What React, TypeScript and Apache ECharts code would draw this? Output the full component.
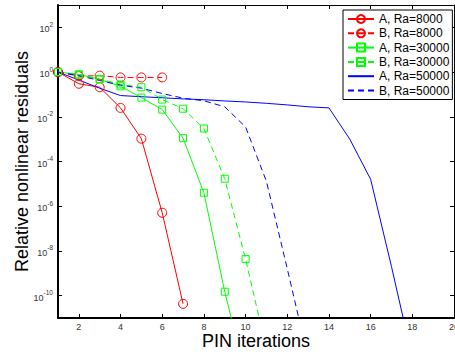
import React, { useEffect, useRef } from "react";
import * as echarts from "echarts";

// Residual values per PIN iteration (iteration k = index + 1)
const redA = [1, 0.3, 0.21, 0.025, 1.05e-3, 5.1e-7, 4.3e-11];
const redB = [1, 0.66, 0.69, 0.575, 0.575, 0.575];
const greenA = [1, 0.79, 0.47, 0.23, 0.072, 0.021, 1.1e-3, 4e-6, 1.5e-10, 2.5e-14];
const greenB = [1, 0.76, 0.49, 0.28, 0.21, 0.059, 0.023, 3e-3, 1.7e-5, 4.3e-9, 4e-13];
const blueA = [1, 0.44, 0.19, 0.089, 0.079, 0.071, 0.063, 0.058, 0.051, 0.046, 0.04, 0.034, 0.028, 0.025, 1e-3, 1.6e-5, 2e-9, 1.6e-13];
const blueB = [1, 0.69, 0.42, 0.26, 0.19, 0.11, 0.068, 0.052, 0.028, 3.5e-3, 1.3e-5, 1.6e-9, 1.6e-13];

const seriesNames = ["A, Ra=8000", "B, Ra=8000", "A, Ra=30000", "B, Ra=30000", "A, Ra=50000", "B, Ra=50000"];
const xTicks = [2, 4, 6, 8, 10, 12, 14, 16, 18, 20];
const yTickExps = [2, 0, -2, -4, -6, -8, -10];

const RED = "#ff0000";
const GREEN = "#00ff00";
const BLUE = "#0000ff";
const FONT = "'Liberation Sans', Arial, Helvetica, sans-serif";
const DASH = [6, 4];
const CLEAR = "rgba(0,0,0,0)";

const toPoints = (arr: number[]) => arr.map((v, i) => [i + 1, Math.log10(v)]);

function mkSeries(name: string, vals: number[], color: string, dashed: boolean, symbol: string, size: number) {
  return {
    name,
    type: "line",
    data: toPoints(vals),
    symbol,
    symbolSize: size,
    showSymbol: symbol !== "none",
    clip: true,
    silent: true,
    lineStyle: { color, width: 1, type: dashed ? DASH : "solid" },
    itemStyle: { color: CLEAR, borderColor: color, borderWidth: 1 },
    emphasis: { disabled: true },
  };
}

export default function App() {
  const ref = useRef<HTMLDivElement>(null);
  useEffect(() => {
    if (!ref.current) return;
    const chart = echarts.init(ref.current, null, { renderer: "svg" });
    const tickLabelStyle = { fontSize: 9, color: "#333", fontFamily: FONT };
    chart.setOption({
      animation: false,
      backgroundColor: "#fff",
      grid: { left: 58, right: 1, top: 5, bottom: 36, containLabel: false, outerBoundsMode: "none" },
      xAxis: [
        {
          type: "value",
          min: 1,
          max: 20,
          position: "bottom",
          axisLine: { show: true, onZero: false, lineStyle: { color: "#000", width: 2 } },
          axisTick: { show: true, inside: true, length: 4, customValues: xTicks, lineStyle: { color: "#000" } },
          axisLabel: { customValues: xTicks, margin: 4, ...tickLabelStyle },
          splitLine: { show: false },
          name: "PIN iterations",
          nameLocation: "middle",
          nameGap: 14,
          nameMoveOverlap: false,
          nameTextStyle: { fontSize: 18, color: "#000", fontFamily: FONT },
        },
        {
          type: "value",
          min: 1,
          max: 20,
          position: "top",
          axisLine: { show: true, onZero: false, lineStyle: { color: "#000", width: 1 } },
          axisTick: { show: true, inside: true, length: 4, customValues: xTicks, lineStyle: { color: "#000" } },
          axisLabel: { show: false },
          splitLine: { show: false },
        },
      ],
      yAxis: [
        {
          type: "value",
          min: -11,
          max: 3,
          position: "left",
          axisLine: { show: true, onZero: false, lineStyle: { color: "#000", width: 2 } },
          axisTick: { show: true, inside: true, length: 4, customValues: yTickExps, lineStyle: { color: "#000" } },
          axisLabel: {
            customValues: yTickExps,
            margin: 5,
            formatter: (v: number) => `{b|10}{s|${v}}`,
            rich: {
              b: { fontSize: 9, lineHeight: 13, verticalAlign: "bottom", color: "#333", fontFamily: FONT },
              s: { fontSize: 6.5, lineHeight: 6.5, verticalAlign: "top", color: "#333", fontFamily: FONT },
            },
          },
          splitLine: { show: false },
          name: "Relative nonlinear residuals",
          nameLocation: "middle",
          nameGap: 27,
          nameMoveOverlap: false,
          nameTextStyle: { fontSize: 18, color: "#000", fontFamily: FONT },
        },
        {
          type: "value",
          min: -11,
          max: 3,
          position: "right",
          axisLine: { show: true, onZero: false, lineStyle: { color: "#000", width: 1 } },
          axisTick: { show: true, inside: true, length: 4, customValues: yTickExps, lineStyle: { color: "#000" } },
          axisLabel: { show: false },
          splitLine: { show: false },
        },
      ],
      legend: {
        orient: "vertical",
        left: 343,
        top: 10,
        itemWidth: 26,
        itemHeight: 10,
        itemGap: 2.3,
        padding: [3, 3, 3, 4],
        backgroundColor: "#fff",
        borderColor: "#000",
        borderWidth: 1,
        borderRadius: 0,
        selectedMode: false,
        textStyle: { fontSize: 12, lineHeight: 12, color: "#000", fontFamily: FONT },
        data: seriesNames.map((name, i) =>
          i >= 4 ? { name, itemStyle: { color: CLEAR, borderColor: CLEAR, borderWidth: 0 } } : { name }
        ),
      },
      series: [
        mkSeries(seriesNames[0], redA, RED, false, "circle", 9),
        mkSeries(seriesNames[1], redB, RED, true, "circle", 9),
        mkSeries(seriesNames[2], greenA, GREEN, false, "rect", 7),
        mkSeries(seriesNames[3], greenB, GREEN, true, "rect", 7),
        mkSeries(seriesNames[4], blueA, BLUE, false, "none", 0),
        mkSeries(seriesNames[5], blueB, BLUE, true, "none", 0),
      ],
    });
    return () => chart.dispose();
  }, []);
  return (
    <div
      ref={ref}
      style={{ position: "absolute", left: 0, top: 0, width: 455, height: 354, background: "#fff" }}
    />
  );
}
